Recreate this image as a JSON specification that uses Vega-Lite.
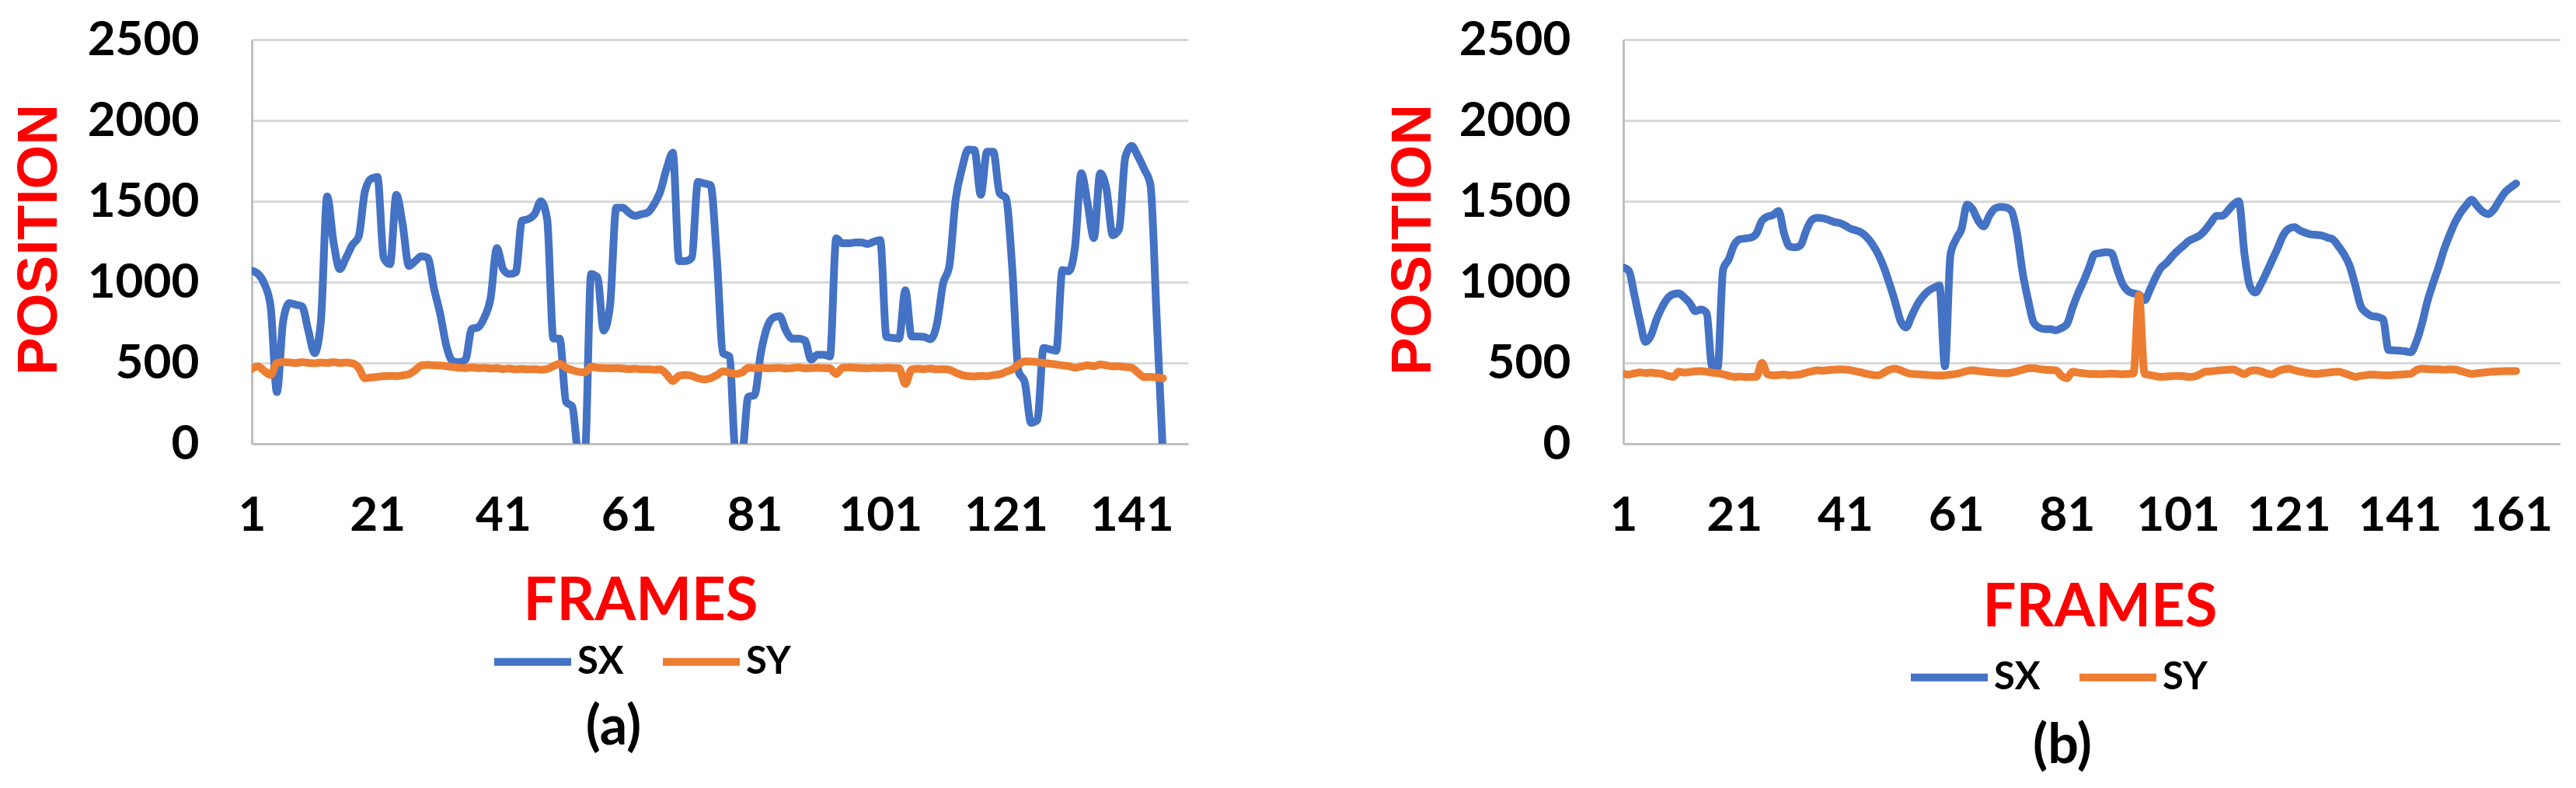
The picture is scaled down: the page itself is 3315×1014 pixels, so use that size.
{
  "$schema": "https://vega.github.io/schema/vega-lite/v6.json",
  "background": "white",
  "padding": {"left": 14, "top": 20, "right": 0, "bottom": 0},
  "bounds": "flush",
  "spacing": 560,
  "datasets": {
    "a": [
      {"f":1,"SX":1070,"SY":464},{"f":2,"SX":1050,"SY":478},{"f":3,"SX":990,"SY":450},{"f":4,"SX":850,"SY":425},{"f":5,"SX":320,"SY":500},
      {"f":6,"SX":760,"SY":505},{"f":7,"SX":870,"SY":503},{"f":8,"SX":860,"SY":500},{"f":9,"SX":850,"SY":505},{"f":10,"SX":700,"SY":500},
      {"f":11,"SX":560,"SY":498},{"f":12,"SX":760,"SY":502},{"f":13,"SX":1530,"SY":500},{"f":14,"SX":1250,"SY":505},{"f":15,"SX":1080,"SY":500},
      {"f":16,"SX":1150,"SY":502},{"f":17,"SX":1230,"SY":498},{"f":18,"SX":1280,"SY":470},{"f":19,"SX":1560,"SY":405},{"f":20,"SX":1640,"SY":410},
      {"f":21,"SX":1650,"SY":414},{"f":22,"SX":1150,"SY":418},{"f":23,"SX":1110,"SY":420},{"f":24,"SX":1540,"SY":418},{"f":25,"SX":1360,"SY":423},
      {"f":26,"SX":1100,"SY":430},{"f":27,"SX":1130,"SY":455},{"f":28,"SX":1160,"SY":485},{"f":29,"SX":1150,"SY":488},{"f":30,"SX":960,"SY":485},
      {"f":31,"SX":800,"SY":484},{"f":32,"SX":600,"SY":480},{"f":33,"SX":510,"SY":475},{"f":34,"SX":505,"SY":470},{"f":35,"SX":520,"SY":468},
      {"f":36,"SX":710,"SY":472},{"f":37,"SX":720,"SY":468},{"f":38,"SX":780,"SY":470},{"f":39,"SX":900,"SY":465},{"f":40,"SX":1210,"SY":468},
      {"f":41,"SX":1080,"SY":462},{"f":42,"SX":1050,"SY":465},{"f":43,"SX":1060,"SY":460},{"f":44,"SX":1380,"SY":463},{"f":45,"SX":1390,"SY":460},
      {"f":46,"SX":1420,"SY":462},{"f":47,"SX":1500,"SY":458},{"f":48,"SX":1390,"SY":462},{"f":49,"SX":650,"SY":480},{"f":50,"SX":650,"SY":495},
      {"f":51,"SX":260,"SY":470},{"f":52,"SX":230,"SY":455},{"f":53,"SX":-60,"SY":445},{"f":54,"SX":-60,"SY":441},{"f":55,"SX":1050,"SY":477},
      {"f":56,"SX":1030,"SY":470},{"f":57,"SX":700,"SY":468},{"f":58,"SX":850,"SY":466},{"f":59,"SX":1460,"SY":468},{"f":60,"SX":1460,"SY":465},
      {"f":61,"SX":1430,"SY":462},{"f":62,"SX":1410,"SY":464},{"f":63,"SX":1420,"SY":460},{"f":64,"SX":1430,"SY":462},{"f":65,"SX":1480,"SY":458},
      {"f":66,"SX":1560,"SY":460},{"f":67,"SX":1700,"SY":430},{"f":68,"SX":1800,"SY":388},{"f":69,"SX":1130,"SY":420},{"f":70,"SX":1130,"SY":425},
      {"f":71,"SX":1150,"SY":420},{"f":72,"SX":1620,"SY":405},{"f":73,"SX":1610,"SY":398},{"f":74,"SX":1600,"SY":405},{"f":75,"SX":1150,"SY":425},
      {"f":76,"SX":560,"SY":448},{"f":77,"SX":540,"SY":440},{"f":78,"SX":-60,"SY":432},{"f":79,"SX":-60,"SY":440},{"f":80,"SX":290,"SY":470},
      {"f":81,"SX":300,"SY":468},{"f":82,"SX":560,"SY":470},{"f":83,"SX":720,"SY":466},{"f":84,"SX":780,"SY":468},{"f":85,"SX":790,"SY":470},
      {"f":86,"SX":700,"SY":465},{"f":87,"SX":650,"SY":468},{"f":88,"SX":650,"SY":472},{"f":89,"SX":640,"SY":466},{"f":90,"SX":520,"SY":468},
      {"f":91,"SX":550,"SY":470},{"f":92,"SX":550,"SY":468},{"f":93,"SX":540,"SY":466},{"f":94,"SX":1270,"SY":432},{"f":95,"SX":1240,"SY":470},
      {"f":96,"SX":1240,"SY":472},{"f":97,"SX":1245,"SY":470},{"f":98,"SX":1245,"SY":468},{"f":99,"SX":1236,"SY":466},{"f":100,"SX":1250,"SY":470},
      {"f":101,"SX":1260,"SY":468},{"f":102,"SX":660,"SY":470},{"f":103,"SX":655,"SY":468},{"f":104,"SX":650,"SY":466},{"f":105,"SX":950,"SY":370},
      {"f":106,"SX":664,"SY":460},{"f":107,"SX":664,"SY":464},{"f":108,"SX":660,"SY":462},{"f":109,"SX":647,"SY":465},{"f":110,"SX":736,"SY":460},
      {"f":111,"SX":990,"SY":462},{"f":112,"SX":1100,"SY":458},{"f":113,"SX":1510,"SY":440},{"f":114,"SX":1700,"SY":425},{"f":115,"SX":1820,"SY":418},
      {"f":116,"SX":1816,"SY":416},{"f":117,"SX":1540,"SY":420},{"f":118,"SX":1807,"SY":418},{"f":119,"SX":1807,"SY":425},{"f":120,"SX":1550,"SY":430},
      {"f":121,"SX":1520,"SY":445},{"f":122,"SX":1093,"SY":460},{"f":123,"SX":450,"SY":490},{"f":124,"SX":380,"SY":510},{"f":125,"SX":130,"SY":508},
      {"f":126,"SX":146,"SY":505},{"f":127,"SX":593,"SY":500},{"f":128,"SX":584,"SY":495},{"f":129,"SX":575,"SY":490},{"f":130,"SX":1075,"SY":485},
      {"f":131,"SX":1066,"SY":480},{"f":132,"SX":1218,"SY":470},{"f":133,"SX":1673,"SY":478},{"f":134,"SX":1486,"SY":485},{"f":135,"SX":1272,"SY":480},
      {"f":136,"SX":1673,"SY":490},{"f":137,"SX":1575,"SY":485},{"f":138,"SX":1290,"SY":478},{"f":139,"SX":1325,"SY":480},{"f":140,"SX":1772,"SY":475},
      {"f":141,"SX":1843,"SY":471},{"f":142,"SX":1780,"SY":440},{"f":143,"SX":1700,"SY":412},{"f":144,"SX":1602,"SY":414},{"f":145,"SX":772,"SY":410},
      {"f":146,"SX":-80,"SY":405}
    ],
    "b": [
      {"f":1,"SX":1090,"SY":432},{"f":2,"SX":1070,"SY":428},{"f":3,"SX":920,"SY":436},{"f":4,"SX":760,"SY":441},{"f":5,"SX":630,"SY":438},
      {"f":6,"SX":670,"SY":440},{"f":7,"SX":770,"SY":436},{"f":8,"SX":845,"SY":432},{"f":9,"SX":900,"SY":420},{"f":10,"SX":925,"SY":414},
      {"f":11,"SX":930,"SY":446},{"f":12,"SX":905,"SY":440},{"f":13,"SX":870,"SY":444},{"f":14,"SX":820,"SY":448},{"f":15,"SX":830,"SY":450},
      {"f":16,"SX":810,"SY":446},{"f":17,"SX":480,"SY":440},{"f":18,"SX":470,"SY":436},{"f":19,"SX":1080,"SY":430},{"f":20,"SX":1140,"SY":420},
      {"f":21,"SX":1230,"SY":414},{"f":22,"SX":1265,"SY":416},{"f":23,"SX":1270,"SY":412},{"f":24,"SX":1275,"SY":414},{"f":25,"SX":1300,"SY":414},
      {"f":26,"SX":1380,"SY":500},{"f":27,"SX":1405,"SY":430},{"f":28,"SX":1415,"SY":423},{"f":29,"SX":1440,"SY":425},{"f":30,"SX":1300,"SY":428},
      {"f":31,"SX":1220,"SY":423},{"f":32,"SX":1215,"SY":426},{"f":33,"SX":1230,"SY":430},{"f":34,"SX":1320,"SY":440},{"f":35,"SX":1385,"SY":448},
      {"f":36,"SX":1398,"SY":454},{"f":37,"SX":1395,"SY":452},{"f":38,"SX":1385,"SY":456},{"f":39,"SX":1372,"SY":458},{"f":40,"SX":1365,"SY":460},
      {"f":41,"SX":1350,"SY":459},{"f":42,"SX":1330,"SY":455},{"f":43,"SX":1320,"SY":448},{"f":44,"SX":1305,"SY":440},{"f":45,"SX":1275,"SY":432},
      {"f":46,"SX":1230,"SY":425},{"f":47,"SX":1170,"SY":423},{"f":48,"SX":1090,"SY":440},{"f":49,"SX":990,"SY":458},{"f":50,"SX":880,"SY":464},
      {"f":51,"SX":760,"SY":455},{"f":52,"SX":720,"SY":440},{"f":53,"SX":790,"SY":432},{"f":54,"SX":860,"SY":430},{"f":55,"SX":910,"SY":428},
      {"f":56,"SX":945,"SY":425},{"f":57,"SX":965,"SY":423},{"f":58,"SX":980,"SY":422},{"f":59,"SX":480,"SY":423},{"f":60,"SX":1170,"SY":428},
      {"f":61,"SX":1265,"SY":432},{"f":62,"SX":1330,"SY":440},{"f":63,"SX":1480,"SY":450},{"f":64,"SX":1450,"SY":454},{"f":65,"SX":1380,"SY":450},
      {"f":66,"SX":1345,"SY":446},{"f":67,"SX":1410,"SY":442},{"f":68,"SX":1455,"SY":440},{"f":69,"SX":1465,"SY":438},{"f":70,"SX":1462,"SY":436},
      {"f":71,"SX":1440,"SY":440},{"f":72,"SX":1300,"SY":448},{"f":73,"SX":1060,"SY":458},{"f":74,"SX":890,"SY":466},{"f":75,"SX":750,"SY":468},
      {"f":76,"SX":718,"SY":462},{"f":77,"SX":709,"SY":458},{"f":78,"SX":709,"SY":456},{"f":79,"SX":702,"SY":454},{"f":80,"SX":715,"SY":420},
      {"f":81,"SX":740,"SY":405},{"f":82,"SX":840,"SY":446},{"f":83,"SX":930,"SY":440},{"f":84,"SX":1005,"SY":436},{"f":85,"SX":1090,"SY":432},
      {"f":86,"SX":1173,"SY":432},{"f":87,"SX":1180,"SY":430},{"f":88,"SX":1185,"SY":432},{"f":89,"SX":1180,"SY":434},{"f":90,"SX":1085,"SY":432},
      {"f":91,"SX":990,"SY":430},{"f":92,"SX":945,"SY":432},{"f":93,"SX":930,"SY":435},{"f":94,"SX":923,"SY":920},{"f":95,"SX":888,"SY":432},
      {"f":96,"SX":955,"SY":425},{"f":97,"SX":1030,"SY":418},{"f":98,"SX":1090,"SY":414},{"f":99,"SX":1120,"SY":416},{"f":100,"SX":1160,"SY":418},
      {"f":101,"SX":1195,"SY":420},{"f":102,"SX":1225,"SY":418},{"f":103,"SX":1255,"SY":414},{"f":104,"SX":1272,"SY":416},{"f":105,"SX":1290,"SY":430},
      {"f":106,"SX":1325,"SY":446},{"f":107,"SX":1370,"SY":448},{"f":108,"SX":1410,"SY":452},{"f":109,"SX":1410,"SY":455},{"f":110,"SX":1440,"SY":458},
      {"f":111,"SX":1480,"SY":459},{"f":112,"SX":1500,"SY":445},{"f":113,"SX":1180,"SY":430},{"f":114,"SX":975,"SY":450},{"f":115,"SX":935,"SY":454},
      {"f":116,"SX":990,"SY":448},{"f":117,"SX":1060,"SY":436},{"f":118,"SX":1135,"SY":429},{"f":119,"SX":1210,"SY":448},{"f":120,"SX":1290,"SY":460},
      {"f":121,"SX":1330,"SY":464},{"f":122,"SX":1340,"SY":455},{"f":123,"SX":1320,"SY":446},{"f":124,"SX":1305,"SY":440},{"f":125,"SX":1295,"SY":434},
      {"f":126,"SX":1292,"SY":432},{"f":127,"SX":1288,"SY":436},{"f":128,"SX":1275,"SY":440},{"f":129,"SX":1263,"SY":444},{"f":130,"SX":1220,"SY":446},
      {"f":131,"SX":1170,"SY":436},{"f":132,"SX":1100,"SY":424},{"f":133,"SX":980,"SY":414},{"f":134,"SX":850,"SY":420},{"f":135,"SX":810,"SY":425},
      {"f":136,"SX":790,"SY":428},{"f":137,"SX":785,"SY":426},{"f":138,"SX":770,"SY":424},{"f":139,"SX":580,"SY":423},{"f":140,"SX":578,"SY":425},
      {"f":141,"SX":576,"SY":428},{"f":142,"SX":572,"SY":430},{"f":143,"SX":566,"SY":432},{"f":144,"SX":630,"SY":455},{"f":145,"SX":740,"SY":464},
      {"f":146,"SX":880,"SY":462},{"f":147,"SX":990,"SY":460},{"f":148,"SX":1090,"SY":460},{"f":149,"SX":1200,"SY":458},{"f":150,"SX":1290,"SY":460},
      {"f":151,"SX":1370,"SY":459},{"f":152,"SX":1430,"SY":450},{"f":153,"SX":1475,"SY":440},{"f":154,"SX":1510,"SY":432},{"f":155,"SX":1470,"SY":436},
      {"f":156,"SX":1435,"SY":440},{"f":157,"SX":1420,"SY":444},{"f":158,"SX":1450,"SY":446},{"f":159,"SX":1505,"SY":448},{"f":160,"SX":1555,"SY":450},
      {"f":161,"SX":1585,"SY":450},{"f":162,"SX":1610,"SY":450}
    ]
  },
  "hconcat": [
    {
      "width": 1205,
      "height": 520,
      "data": {"name": "a"},
      "transform": [{"fold": ["SX", "SY"], "as": ["series", "value"]}],
      "mark": {"type": "line", "strokeWidth": 10, "interpolate": "monotone", "clip": true, "strokeCap": "round", "strokeJoin": "round"},
      "encoding": {
        "x": {
          "field": "f", "type": "quantitative",
          "scale": {"domain": [1, 150], "nice": false, "zero": false},
          "axis": {"values": [1, 21, 41, 61, 81, 101, 121, 141], "format": "d", "title": "FRAMES", "titleX": 500, "titleY": 226}
        },
        "y": {
          "field": "value", "type": "quantitative",
          "scale": {"domain": [0, 2500], "nice": false},
          "axis": {"values": [0, 500, 1000, 1500, 2000, 2500], "format": "d", "title": "POSITION", "titleX": -274, "titleY": 257}
        },
        "color": {
          "field": "series", "type": "nominal",
          "scale": {"domain": ["SX", "SY"], "range": ["#4472C4", "#ED7D31"]},
          "legend": {"orient": "none", "legendX": 307, "legendY": 746, "direction": "horizontal", "title": null}
        }
      },
      "title": {"text": "(a)", "orient": "bottom", "anchor": "middle", "frame": "group", "dx": -137, "offset": 26}
    },
    {
      "width": 1206,
      "height": 520,
      "data": {"name": "b"},
      "transform": [{"fold": ["SX", "SY"], "as": ["series", "value"]}],
      "mark": {"type": "line", "strokeWidth": 10, "interpolate": "monotone", "clip": true, "strokeCap": "round", "strokeJoin": "round"},
      "encoding": {
        "x": {
          "field": "f", "type": "quantitative",
          "scale": {"domain": [1, 170], "nice": false, "zero": false},
          "axis": {"values": [1, 21, 41, 61, 81, 101, 121, 141, 161], "format": "d", "title": "FRAMES", "titleX": 613, "titleY": 234}
        },
        "y": {
          "field": "value", "type": "quantitative",
          "scale": {"domain": [0, 2500], "nice": false},
          "axis": {"values": [0, 500, 1000, 1500, 2000, 2500], "format": "d", "title": "POSITION", "titleX": -271, "titleY": 257}
        },
        "color": {
          "field": "series", "type": "nominal",
          "scale": {"domain": ["SX", "SY"], "range": ["#4472C4", "#ED7D31"]},
          "legend": {"orient": "none", "legendX": 365, "legendY": 766, "direction": "horizontal", "title": null}
        }
      },
      "title": {"text": "(b)", "orient": "bottom", "anchor": "middle", "frame": "group", "dx": -38, "offset": 30}
    }
  ],
  "resolve": {"scale": {"color": "independent", "x": "independent", "y": "independent"}, "legend": {"color": "independent"}},
  "config": {
    "view": {"stroke": null},
    "axis": {
      "labelFont": "Lato", "labelFontWeight": "bold", "labelFontSize": 62, "labelColor": "#000000",
      "ticks": false, "tickSize": 0, "labelOverlap": false, "labelFlush": false, "labelBound": false,
      "domainColor": "#BFBFBF", "domainWidth": 3,
      "gridColor": "#D9D9D9", "gridWidth": 3,
      "titleColor": "#FF0000", "titleFontWeight": "bold", "titleAlign": "center"
    },
    "axisX": {"grid": false, "labelBaseline": "alphabetic", "labelPadding": 111, "titleFont": "Lato", "titleFontSize": 76, "titleBaseline": "alphabetic", "titleAngle": 0},
    "axisY": {"grid": true, "labelPadding": 68, "labelBaseline": "middle", "titleFont": "Liberation Sans", "titleFontSize": 73, "titleAngle": 270, "titleBaseline": "middle"},
    "legend": {
      "symbolType": "stroke", "symbolSize": 9800, "symbolStrokeWidth": 10,
      "labelFont": "Lato", "labelFontSize": 49, "labelFontWeight": "bold", "labelColor": "#000000",
      "labelOffset": 3, "columnPadding": 30, "padding": 0
    },
    "title": {"font": "Lato", "fontSize": 70, "fontWeight": "bold", "color": "#000000"}
  }
}
